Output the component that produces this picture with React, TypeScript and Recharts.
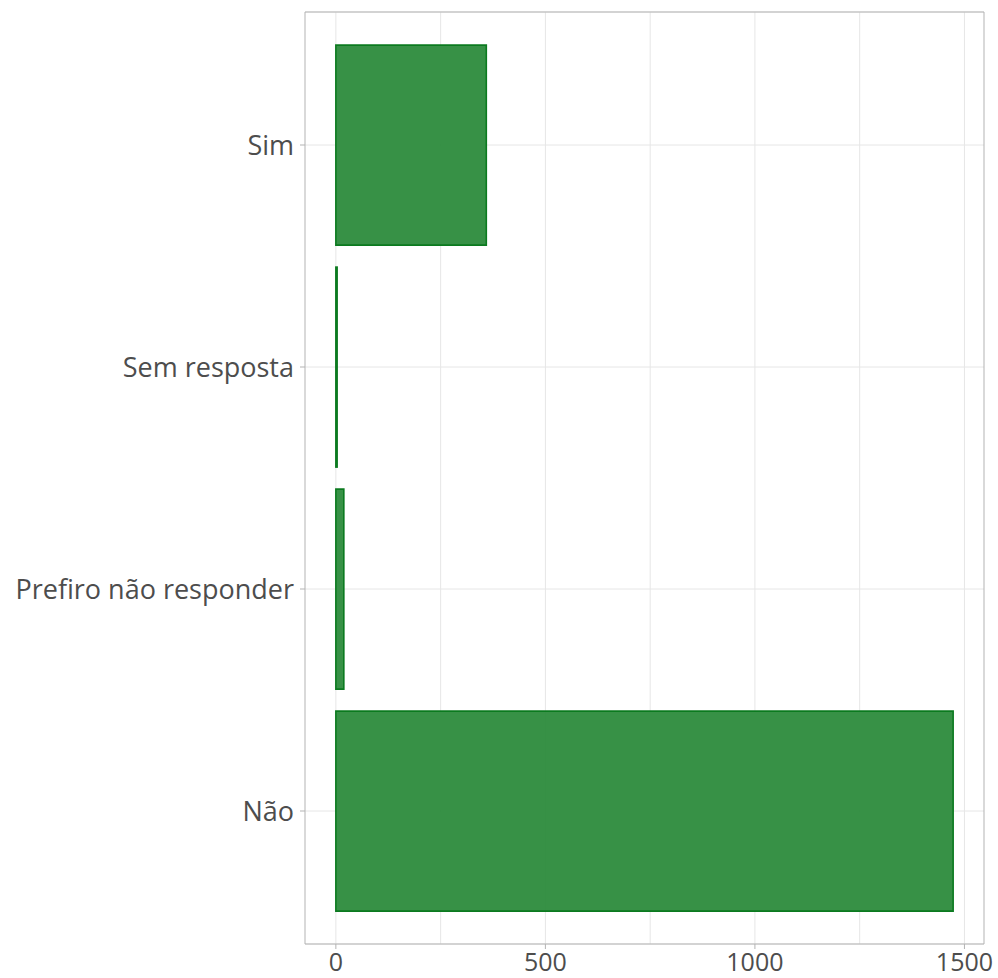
import React from "react";
import { BarChart, Bar, XAxis, YAxis, CartesianGrid } from "recharts";

const categories = ["Sim", "Sem resposta", "Prefiro não responder", "Não"];
const counts = [359, 3, 19, 1473];
const xTicks = [0, 500, 1000, 1500];
const xGridValues = [0, 250, 500, 750, 1000, 1250, 1500];

const data = categories.map((c, i) => ({ name: c, value: counts[i] }));

const FONT = "'Open Sans', 'Noto Sans', sans-serif";
const TEXT = "#4d4d4d";
const BORDER = "#b3b3b3";
const GRID = "#e6e6e6";
const DOMAIN: [number, number] = [-73.65, 1546.65];

export default function App() {
  return (
    <div style={{ position: "absolute", left: 0, top: 0, width: 998, height: 978, background: "#fff" }}>
      <BarChart
        width={998}
        height={978}
        data={data}
        layout="vertical"
        margin={{ top: 11, right: 13, bottom: 0, left: 0 }}
        barCategoryGap="5%"
      >
        <CartesianGrid
          horizontal={true}
          vertical={true}
          verticalValues={xGridValues}
          stroke={GRID}
          strokeWidth={1}
        />
        <XAxis
          xAxisId="top"
          orientation="top"
          type="number"
          domain={DOMAIN}
          allowDataOverflow
          height={1}
          tick={false}
          tickLine={false}
          axisLine={{ stroke: BORDER, strokeWidth: 1 }}
        />
        <XAxis
          type="number"
          domain={DOMAIN}
          ticks={xTicks}
          allowDataOverflow
          height={34}
          axisLine={{ stroke: BORDER, strokeWidth: 1 }}
          tickLine={{ stroke: BORDER }}
          tickSize={5}
          tickMargin={4}
          tick={{ fill: TEXT, fontSize: 25, fontFamily: FONT }}
        />
        <YAxis
          type="category"
          dataKey="name"
          width={305}
          padding={{ top: 22, bottom: 22 }}
          axisLine={{ stroke: BORDER, strokeWidth: 1 }}
          tickLine={{ stroke: BORDER }}
          tickSize={5}
          tickMargin={6}
          tick={{ fill: TEXT, fontSize: 27, fontFamily: FONT }}
        />
        <YAxis
          yAxisId="right"
          orientation="right"
          type="category"
          dataKey="name"
          width={1}
          padding={{ top: 22, bottom: 22 }}
          axisLine={{ stroke: BORDER, strokeWidth: 1 }}
          tickLine={false}
          tick={false}
        />
        <Bar
          dataKey="value"
          xAxisId={0}
          yAxisId={0}
          fill="#2f8c3e"
          fillOpacity={0.96}
          stroke="#0b7a1f"
          strokeWidth={1.6}
          isAnimationActive={false}
        />
      </BarChart>
    </div>
  );
}
